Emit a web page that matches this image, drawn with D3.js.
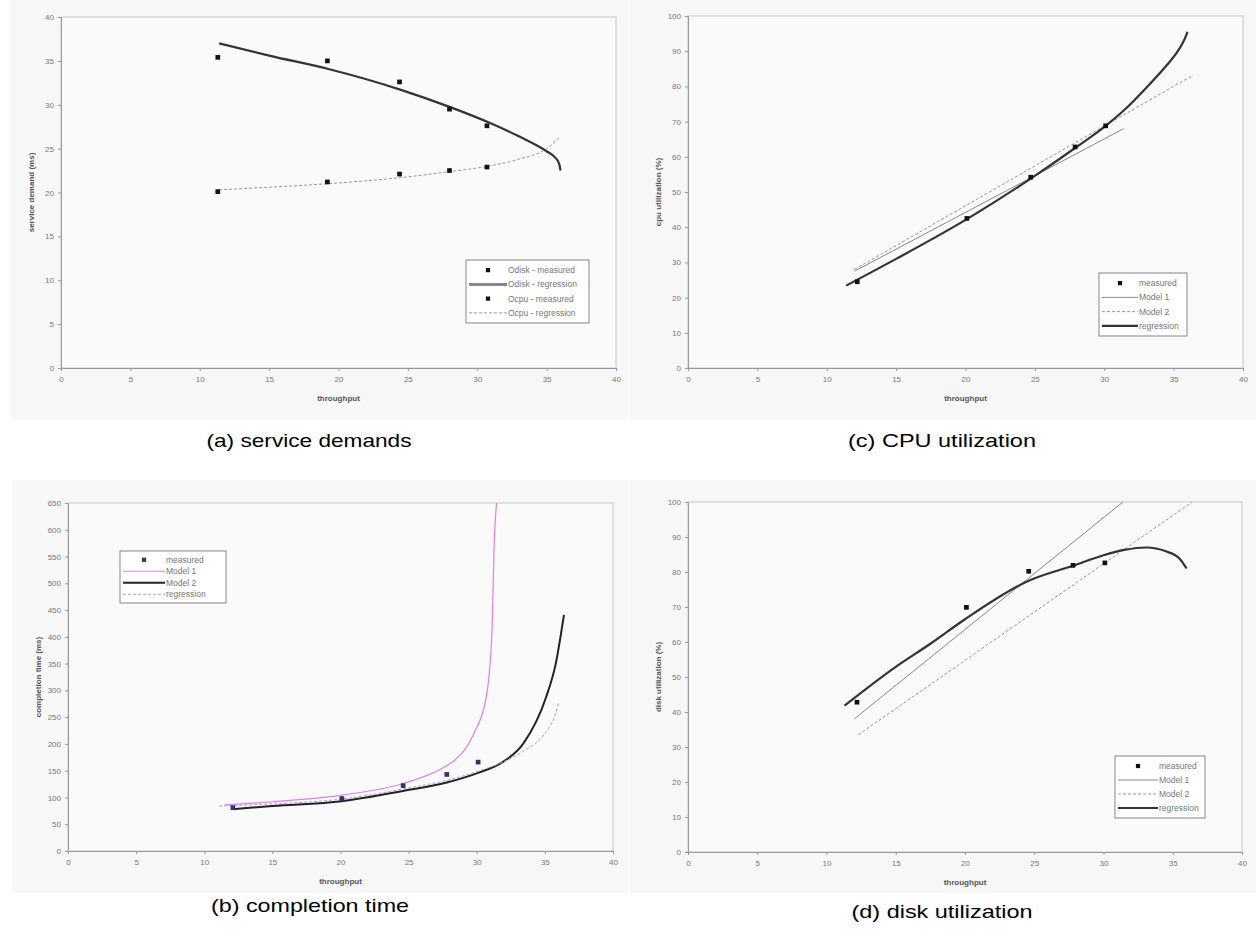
<html>

<head>
    <meta charset="UTF-8">
    <title>Model vs measured</title>
    <style>
        body {
            margin: 0;
            background: #fff;
        }

        .tick text {
            font: 8px "Liberation Sans", Arial, sans-serif;
            fill: #777;
        }

        .axis path,
        .axis line {
            stroke: #999;
        }

        .axis-title {
            font: bold 8px "Liberation Sans", Arial, sans-serif;
            fill: #555;
        }

        .legend text {
            font: 8.5px "Liberation Sans", Arial, sans-serif;
            fill: #777;
        }

        .caption {
            font: 19px "Liberation Sans", Arial, sans-serif;
            fill: #000;
        }
    </style>

    <script src="https://d3js.org/d3.v7.min.js"></script>
</head>

<body>
    <script type="text/javascript">
        // shared x axis ticks (throughput)
        var xTicks = [0, 5, 10, 15, 20, 25, 30, 35, 40]

        // (a) service demands
        var aMeasX = [11.3, 19.2, 24.4, 28.0, 30.7]
        var aOdiskMeas = [35.4, 35.0, 32.6, 29.5, 27.6]
        var aOcpuMeas = [20.1, 21.2, 22.1, 22.5, 22.9]
        var aOdiskRegX = [11.4, 15, 19.2, 24.5, 28.1, 30.8, 33, 35, 35.6, 35.9, 36.0]
        var aOdiskRegY = [37.0, 35.6, 34.1, 31.7, 29.7, 28.0, 26.4, 24.7, 24.0, 23.3, 22.5]
        var aOcpuRegX = [11.4, 15, 19.2, 24.5, 28.1, 30.8, 33, 35, 36.0]
        var aOcpuRegY = [20.3, 20.6, 21.0, 21.7, 22.4, 23.0, 23.8, 25.0, 26.4]
        var aYTicks = [0, 5, 10, 15, 20, 25, 30, 35, 40]

        // (c) CPU utilization
        var cMeasX = [12.2, 20.1, 24.7, 27.9, 30.1]
        var cMeasY = [24.5, 42.5, 54.2, 62.8, 68.8]
        var cModel1X = [12.0, 31.4]
        var cModel1Y = [27.5, 68.0]
        var cModel2X = [12.0, 36.4]
        var cModel2Y = [28.0, 83.2]
        var cRegX = [11.4, 15, 20.1, 24.7, 27.9, 30.1, 31.5, 33, 34.5, 35.3, 35.8, 36.0]
        var cRegY = [23.4, 31.0, 42.3, 53.8, 62.5, 68.8, 73.5, 79.5, 86, 90, 93.5, 95.5]
        var cYTicks = [0, 10, 20, 30, 40, 50, 60, 70, 80, 90, 100]

        // (b) completion time
        var bMeasX = [12.1, 20.1, 24.6, 27.8, 30.1]
        var bMeasY = [81, 98, 122, 143, 166]
        var bModel1X = [11.5, 15, 20, 24.6, 27.5, 28.4, 29.8, 30.7, 31.1, 31.3, 31.45]
        var bModel1Y = [86, 92, 104, 126, 155, 170, 220, 288, 400, 587, 650]
        var bModel2X = [12.1, 15, 20.1, 24.6, 27.8, 30.1, 31.9, 33.4, 35.1, 35.8, 36.4]
        var bModel2Y = [78, 84, 93, 112, 128, 146, 166, 200, 288, 350, 441]
        var bRegX = [11.1, 15, 20.1, 24.6, 27.8, 30.1, 32, 33.4, 35.1, 35.7, 36.0]
        var bRegY = [84, 88, 97, 116, 132, 149, 167, 186, 223, 250, 276]
        var bYTicks = [0, 50, 100, 150, 200, 250, 300, 350, 400, 450, 500, 550, 600, 650]

        // (d) disk utilization
        var dMeasX = [12.2, 20.1, 24.6, 27.8, 30.1]
        var dMeasY = [42.8, 69.9, 80.2, 81.9, 82.6]
        var dModel1X = [12.0, 31.4]
        var dModel1Y = [38.0, 100]
        var dModel2X = [12.3, 36.4]
        var dModel2Y = [33.5, 100]
        var dRegX = [11.3, 15, 17.5, 20, 24.6, 27.8, 30, 31.5, 33.1, 34.5, 35.5, 36.0]
        var dRegY = [41.8, 52.9, 59.5, 66.5, 77.5, 81.8, 84.8, 86.3, 87.0, 85.9, 83.8, 81.0]
        var dYTicks = [0, 10, 20, 30, 40, 50, 60, 70, 80, 90, 100]
    </script>
    <script type="text/javascript">
        var svg = d3.select("body").append("svg")
            .attr("width", 1256)
            .attr("height", 944)

        function zip(xs, ys) {
            return xs.map(function (x, i) { return [x, ys[i]] })
        }

        // line styles
        var thick = { stroke: "#333", width: 2.2 }
        var thinGray = { stroke: "#888", width: 1 }
        var dashGray = { stroke: "#999", width: 1, dash: "3,2" }

        function drawPanel(p) {
            var g = svg.append("g")

            g.append("rect")
                .attr("x", p.bg[0]).attr("y", p.bg[1])
                .attr("width", p.bg[2]).attr("height", p.bg[3])
                .attr("fill", "#f7f7f7")

            var x = d3.scaleLinear().domain([0, 40]).range([p.left, p.right])
            var y = d3.scaleLinear().domain([0, p.yMax]).range([p.bottom, p.top])

            // plot frame (top/right)
            g.append("rect")
                .attr("x", p.left).attr("y", p.top)
                .attr("width", p.right - p.left).attr("height", p.bottom - p.top)
                .attr("fill", "#fafafa")
                .attr("stroke", "#c8c8c8")

            g.append("g")
                .attr("class", "axis")
                .attr("transform", "translate(0," + p.bottom + ")")
                .call(d3.axisBottom(x).tickValues(xTicks).tickSize(3).tickPadding(5))

            g.append("g")
                .attr("class", "axis")
                .attr("transform", "translate(" + p.left + ",0)")
                .call(d3.axisLeft(y).tickValues(p.yTicks).tickSize(3).tickPadding(4))

            g.append("text")
                .attr("class", "axis-title")
                .attr("x", (p.left + p.right) / 2)
                .attr("y", p.bottom + 33)
                .attr("text-anchor", "middle")
                .text("throughput")

            g.append("text")
                .attr("class", "axis-title")
                .attr("transform", "translate(" + (p.left - 27) + "," + ((p.top + p.bottom) / 2) + ") rotate(-90)")
                .attr("text-anchor", "middle")
                .text(p.yTitle)

            var line = d3.line()
                .x(function (d) { return x(d[0]) })
                .y(function (d) { return y(d[1]) })
                .curve(d3.curveMonotoneX)

            p.lines.forEach(function (s) {
                g.append("path")
                    .datum(zip(s.xs, s.ys))
                    .attr("fill", "none")
                    .attr("stroke", s.style.stroke)
                    .attr("stroke-width", s.style.width)
                    .attr("stroke-dasharray", s.style.dash || null)
                    .attr("d", line)
            })

            p.points.forEach(function (s) {
                g.selectAll(null)
                    .data(zip(s.xs, s.ys))
                    .enter().append("path")
                    .attr("transform", function (d) { return "translate(" + x(d[0]) + "," + y(d[1]) + ")" })
                    .attr("d", d3.symbol(d3.symbolSquare, 22))
                    .attr("fill", s.color)
            })

            // legend
            var lg = g.append("g").attr("class", "legend")
            var L = p.legend
            lg.append("rect")
                .attr("x", L.x).attr("y", L.y)
                .attr("width", L.w).attr("height", L.h)
                .attr("fill", "#fff")
                .attr("stroke", "#999")
                .attr("stroke-width", 1.2)
            var rowH = (L.h - 6) / L.items.length
            L.items.forEach(function (it, i) {
                var cy = L.y + 3 + rowH * (i + 0.5)
                if (it.marker) {
                    lg.append("path")
                        .attr("transform", "translate(" + (L.x + L.sw / 2 + 3) + "," + cy + ")")
                        .attr("d", d3.symbol(d3.symbolSquare, 18))
                        .attr("fill", it.marker)
                } else {
                    lg.append("line")
                        .attr("x1", L.x + 3).attr("x2", L.x + 3 + L.sw)
                        .attr("y1", cy).attr("y2", cy)
                        .attr("stroke", it.style.stroke)
                        .attr("stroke-width", it.style.width)
                        .attr("stroke-dasharray", it.style.dash || null)
                }
                lg.append("text")
                    .attr("x", L.x + 4 + L.sw)
                    .attr("y", cy + 3)
                    .text(it.label)
            })

            svg.append("text")
                .attr("class", "caption")
                .attr("x", p.caption[1] - p.caption[3] / 2)
                .attr("y", p.caption[2])
                .attr("textLength", p.caption[3])
                .attr("lengthAdjust", "spacingAndGlyphs")
                .text(p.caption[0])
        }

        drawPanel({
            bg: [10, 0, 618, 420], left: 61, right: 616, top: 17, bottom: 368,
            yMax: 40, yTicks: aYTicks, yTitle: "service demand (ms)",
            lines: [
                { xs: aOdiskRegX, ys: aOdiskRegY, style: thick },
                { xs: aOcpuRegX, ys: aOcpuRegY, style: dashGray }
            ],
            points: [
                { xs: aMeasX, ys: aOdiskMeas, color: "#111" },
                { xs: aMeasX, ys: aOcpuMeas, color: "#111" }
            ],
            legend: {
                x: 466, y: 260, w: 123, h: 63, sw: 38, items: [
                    { label: "Odisk - measured", marker: "#111" },
                    { label: "Odisk - regression", style: { stroke: "#888", width: 3 } },
                    { label: "Ocpu - measured", marker: "#111" },
                    { label: "Ocpu - regression", style: dashGray }
                ]
            },
            caption: ["(a) service demands", 309, 447, 205]
        })

        drawPanel({
            bg: [630, 0, 626, 420], left: 688, right: 1243, top: 16, bottom: 368,
            yMax: 100, yTicks: cYTicks, yTitle: "cpu utilization (%)",
            lines: [
                { xs: cModel1X, ys: cModel1Y, style: thinGray },
                { xs: cModel2X, ys: cModel2Y, style: dashGray },
                { xs: cRegX, ys: cRegY, style: thick }
            ],
            points: [{ xs: cMeasX, ys: cMeasY, color: "#111" }],
            legend: {
                x: 1099, y: 273, w: 88, h: 63, sw: 36, items: [
                    { label: "measured", marker: "#111" },
                    { label: "Model 1", style: thinGray },
                    { label: "Model 2", style: dashGray },
                    { label: "regression", style: thick }
                ]
            },
            caption: ["(c) CPU utilization", 942, 447, 188]
        })

        drawPanel({
            bg: [12, 480, 616, 413], left: 68, right: 613, top: 503, bottom: 851,
            yMax: 650, yTicks: bYTicks, yTitle: "completion time (ms)",
            lines: [
                { xs: bModel1X, ys: bModel1Y, style: { stroke: "#e87ce8", width: 1.2 } },
                { xs: bModel2X, ys: bModel2Y, style: { stroke: "#222", width: 2 } },
                { xs: bRegX, ys: bRegY, style: { stroke: "#a7a0e0", width: 1, dash: "3,2" } }
            ],
            points: [{ xs: bMeasX, ys: bMeasY, color: "#333370" }],
            legend: {
                x: 120, y: 551, w: 106, h: 52, sw: 42, items: [
                    { label: "measured", marker: "#333370" },
                    { label: "Model 1", style: { stroke: "#e87ce8", width: 1.2 } },
                    { label: "Model 2", style: { stroke: "#222", width: 2 } },
                    { label: "regression", style: { stroke: "#a7a0e0", width: 1, dash: "3,2" } }
                ]
            },
            caption: ["(b) completion time", 310, 912, 198]
        })

        drawPanel({
            bg: [630, 480, 626, 413], left: 688, right: 1242, top: 502, bottom: 852,
            yMax: 100, yTicks: dYTicks, yTitle: "disk utilization (%)",
            lines: [
                { xs: dModel1X, ys: dModel1Y, style: thinGray },
                { xs: dModel2X, ys: dModel2Y, style: dashGray },
                { xs: dRegX, ys: dRegY, style: thick }
            ],
            points: [{ xs: dMeasX, ys: dMeasY, color: "#111" }],
            legend: {
                x: 1115, y: 756, w: 90, h: 62, sw: 40, items: [
                    { label: "measured", marker: "#111" },
                    { label: "Model 1", style: thinGray },
                    { label: "Model 2", style: dashGray },
                    { label: "regression", style: thick }
                ]
            },
            caption: ["(d) disk utilization", 942, 918, 181]
        })
    </script>
</body>

</html>
